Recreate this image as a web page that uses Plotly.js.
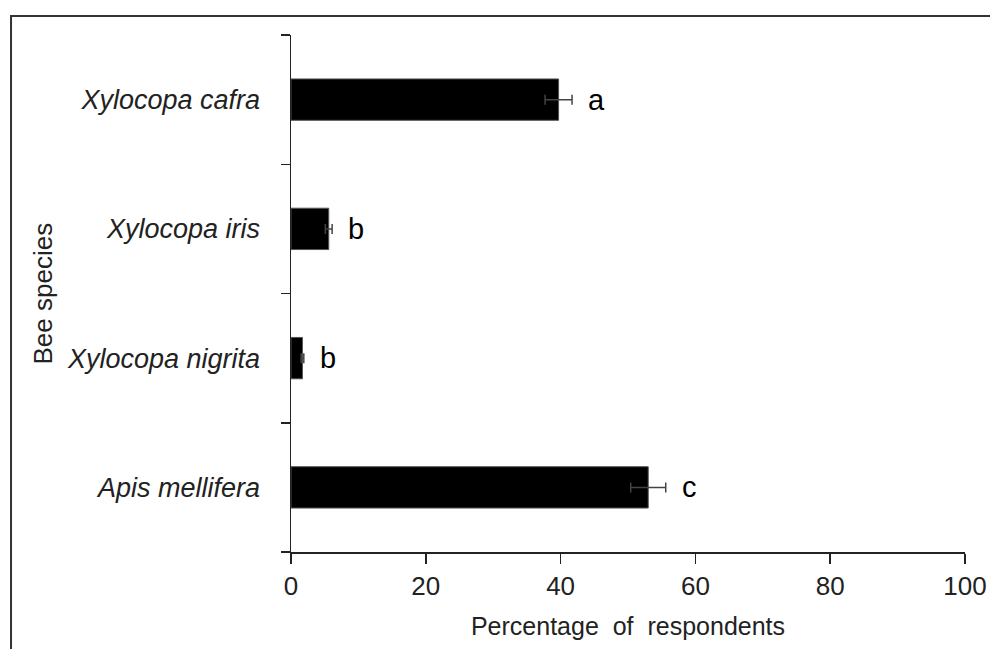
<!DOCTYPE html>
<html>
<head>
<meta charset="utf-8">
<script src="https://cdn.plot.ly/plotly-3.0.1.min.js"></script>
<style>
  html, body { margin: 0; padding: 0; background: #fff; }
  #chart { width: 990px; height: 649px; }
</style>
</head>
<body>
<div id="chart"></div>
<script>
// Data (bottom to top)
const species = ['Apis mellifera', 'Xylocopa nigrita', 'Xylocopa iris', 'Xylocopa cafra'];
const percentages = [53.0, 1.7, 5.6, 39.7];
const errors = [2.6, 0.2, 0.5, 2.0];
const letters = ['c', 'b', 'b', 'a'];
const xTickValues = [0, 20, 40, 60, 80, 100];

const FONT = 'Liberation Sans, Arial, sans-serif';

const trace = {
  type: 'bar',
  orientation: 'h',
  y: species,
  x: percentages,
  width: 0.32,
  marker: { color: '#000000', line: { color: '#555555', width: 1 } },
  error_x: { type: 'data', array: errors, visible: true, color: '#444444', thickness: 1.5, width: 5 },
  hoverinfo: 'none'
};

const letterAnnotations = species.map((s, i) => ({
  x: percentages[i] + errors[i],
  y: s,
  xref: 'x', yref: 'y',
  text: letters[i],
  showarrow: false,
  xanchor: 'left',
  yanchor: 'middle',
  xshift: 14,
  font: { family: FONT, size: 29, color: '#000000' }
}));

const layout = {
  width: 990,
  height: 649,
  margin: { l: 291, r: 25, t: 35, b: 97, pad: 0 },
  paper_bgcolor: '#ffffff',
  plot_bgcolor: '#ffffff',
  showlegend: false,
  xaxis: {
    range: [0, 100],
    tickvals: xTickValues,
    ticktext: xTickValues.map(String),
    showgrid: false,
    zeroline: false,
    showline: true,
    linecolor: '#222222',
    linewidth: 1.5,
    ticks: 'outside',
    ticklen: 10,
    tickwidth: 1.5,
    tickcolor: '#222222',
    ticklabelstandoff: 0,
    tickfont: { family: FONT, size: 26, color: '#222222' },
    title: { text: 'Percentage\u00a0\u00a0of\u00a0\u00a0respondents', font: { family: FONT, size: 25, color: '#222222' }, standoff: 18 },
    fixedrange: true
  },
  yaxis: {
    type: 'category',
    range: [-0.5, 3.5],
    showgrid: false,
    zeroline: false,
    showline: true,
    linecolor: '#222222',
    linewidth: 1.5,
    ticks: 'outside',
    tickson: 'boundaries',
    ticklen: 9,
    tickwidth: 1.5,
    tickcolor: '#222222',
    ticklabelstandoff: 24,
    tickfont: { family: FONT, size: 27, color: '#222222', style: 'italic' },
    fixedrange: true
  },
  annotations: letterAnnotations.concat([{
    xref: 'paper', yref: 'paper',
    x: 0, y: 0.5,
    xshift: -249,
    text: 'Bee species',
    textangle: -90,
    showarrow: false,
    xanchor: 'center', yanchor: 'middle',
    font: { family: FONT, size: 26, color: '#222222' }
  }]),
  shapes: [{
    type: 'rect',
    xref: 'paper', yref: 'paper',
    x0: -0.4154, x1: 1.3,
    y0: -0.6, y1: 1.0368,
    line: { color: '#333333', width: 2 },
    fillcolor: 'rgba(0,0,0,0)',
    layer: 'below'
  }]
};

Plotly.newPlot('chart', [trace], layout, { displayModeBar: false, staticPlot: true });
</script>
</body>
</html>
